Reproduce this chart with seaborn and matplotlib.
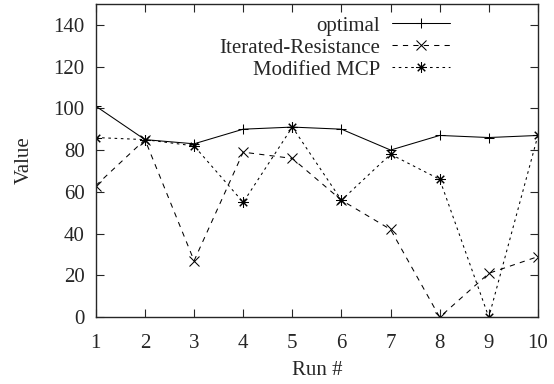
import matplotlib
matplotlib.use("Agg")
import matplotlib.pyplot as plt
import seaborn as sns
import pandas as pd

runs = [1, 2, 3, 4, 5, 6, 7, 8, 9, 10]
optimal = [101, 85, 83, 90, 91, 90, 80, 87, 86, 87]
iterated = [63, 85, 27, 79, 76, 56, 42, 0, 21, 29]
modified = [86, 85, 82, 55, 91, 56, 78, 66, 0, 87]

series = {
    "optimal": optimal,
    "Iterated-Resistance": iterated,
    "Modified MCP": modified,
}
styles = {
    "optimal": dict(ls="-", marker="+"),
    "Iterated-Resistance": dict(ls=(0, (5, 5)), marker="x"),
    "Modified MCP": dict(ls=(0, (2.5, 3.5)), marker=(8, 2, 0)),
}

sns.set_style("ticks")
plt.rcParams["font.family"] = ["Liberation Serif", "DejaVu Serif"]
plt.rcParams["font.size"] = 15

fig = plt.figure(figsize=(5.54, 3.84), dpi=100)
ax = fig.add_axes([0.173, 0.174, 0.798, 0.816])

for name, vals in series.items():
    df = pd.DataFrame({"run": runs, "value": vals})
    st = styles[name]
    sns.lineplot(data=df, x="run", y="value", ax=ax, color="black", lw=0.75,
                 linestyle=st["ls"], marker=st["marker"], markersize=7.5,
                 markeredgewidth=0.75, markeredgecolor="black", label=name)

ax.set_xlim(1, 10)
ax.set_ylim(0, 150)
ax.set_xticks(runs)
ax.set_yticks(range(0, 141, 20))
ax.set_xlabel("Run #", labelpad=6)
ax.set_ylabel("Value", labelpad=14)
ax.tick_params(direction="in", length=6, width=0.8, top=True, right=True,
               labelsize=15)
ax.tick_params(axis="x", pad=12)
ax.tick_params(axis="y", pad=8)
for sp in ax.spines.values():
    sp.set_visible(True)
    sp.set_linewidth(1.0)

ax.legend(loc="upper right", bbox_to_anchor=(450 / 554, 1 - 16 / 384),
          bbox_transform=fig.transFigure, frameon=False, markerfirst=False,
          handlelength=2.8, handletextpad=0.55, labelspacing=0.12, borderpad=0,
          borderaxespad=0, fontsize=15, numpoints=1)

fig.savefig("out.png", dpi=100)
